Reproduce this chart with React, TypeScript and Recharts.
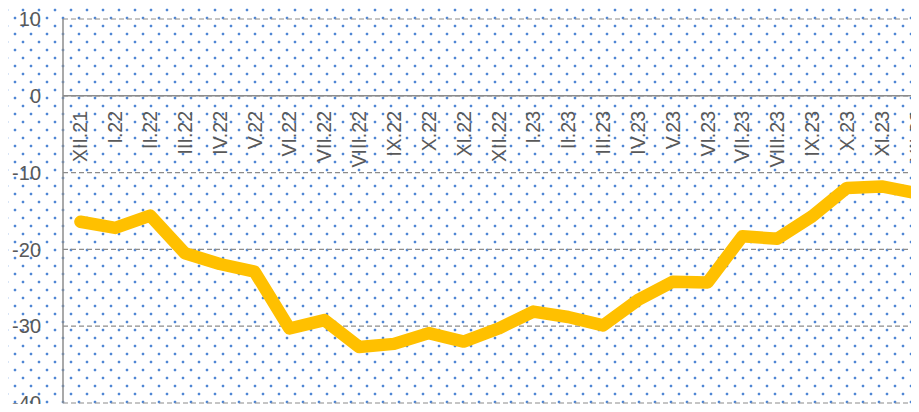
import { LineChart, Line, XAxis, YAxis, CartesianGrid, ReferenceLine } from "recharts"

const months = [
  "XII.21", "I.22", "II.22", "III.22", "IV.22", "V.22", "VI.22", "VII.22", "VIII.22", "IX.22", "X.22", "XI.22",
  "XII.22", "I.23", "II.23", "III.23", "IV.23", "V.23", "VI.23", "VII.23", "VIII.23", "IX.23", "X.23", "XI.23", "XII.23",
]

const balance = [
  -16.4, -17.2, -15.6, -20.5, -21.9, -22.9, -30.3, -29.2, -32.7, -32.3, -30.9, -32.0,
  -30.3, -28.1, -28.8, -29.9, -26.6, -24.2, -24.3, -18.3, -18.6, -15.7, -12.0, -11.8, -12.7,
]

const yTicks = [-40, -30, -20, -10, 0, 10]

const data = months.map((month, i) => ({ month, value: balance[i] }))

const W = 934
const H = 412
const TOP = 19
const BOTTOM = 8
const Y_MIN = -40
const Y_MAX = 10
// pixel row of the zero line, from the y domain
const Y_ZERO = TOP + ((H - TOP - BOTTOM) * Y_MAX) / (Y_MAX - Y_MIN)

const textColor = "#595959"
const gridColor = "#8c8c8c"
const font = "Liberation Sans, Arial, sans-serif"

const MonthTick = (props: any) => {
  const { x, payload } = props
  const y = Y_ZERO + 15
  return (
    <text
      x={x}
      y={y}
      dy="0.36em"
      transform={`rotate(-90, ${x}, ${y})`}
      textAnchor="end"
      fill={textColor}
      fontSize={19.5}
      fontFamily={font}
    >
      {payload.value}
    </text>
  )
}

const dots =
  "radial-gradient(circle, #4f86d4 0.8px, rgba(79,134,212,0.5) 1.3px, transparent 1.8px)"

export default function App() {
  return (
    <div
      style={{
        margin: -8,
        width: 919,
        height: 412,
        overflow: "hidden",
        backgroundColor: "#ffffff",
        backgroundImage: `${dots}, ${dots}`,
        backgroundSize: "16px 16px, 16px 16px",
        backgroundPosition: "7px 10px, 15px 2px",
      }}
    >
      <LineChart width={W} height={H} data={data} margin={{ top: TOP, right: 0, bottom: BOTTOM, left: 0 }}>
        <CartesianGrid vertical={false} stroke={gridColor} strokeWidth={1.2} strokeDasharray="5 3" />
        <XAxis
          dataKey="month"
          orientation="bottom"
          scale="band"
          height={1}
          axisLine={false}
          tickLine={false}
          interval={0}
          tick={<MonthTick />}
        />
        <YAxis
          domain={[Y_MIN, Y_MAX]}
          ticks={yTicks}
          interval={0}
          width={63}
          axisLine={{ stroke: gridColor, strokeWidth: 1.5 }}
          tickLine={false}
          tickSize={0}
          tickMargin={22}
          tick={{ fill: textColor, fontSize: 20, fontFamily: font }}
        />
        <ReferenceLine y={0} stroke={gridColor} strokeWidth={1.5} />
        <Line
          type="linear"
          dataKey="value"
          stroke="#ffc000"
          strokeWidth={12.5}
          strokeLinecap="round"
          strokeLinejoin="round"
          dot={false}
          isAnimationActive={false}
        />
      </LineChart>
    </div>
  )
}
